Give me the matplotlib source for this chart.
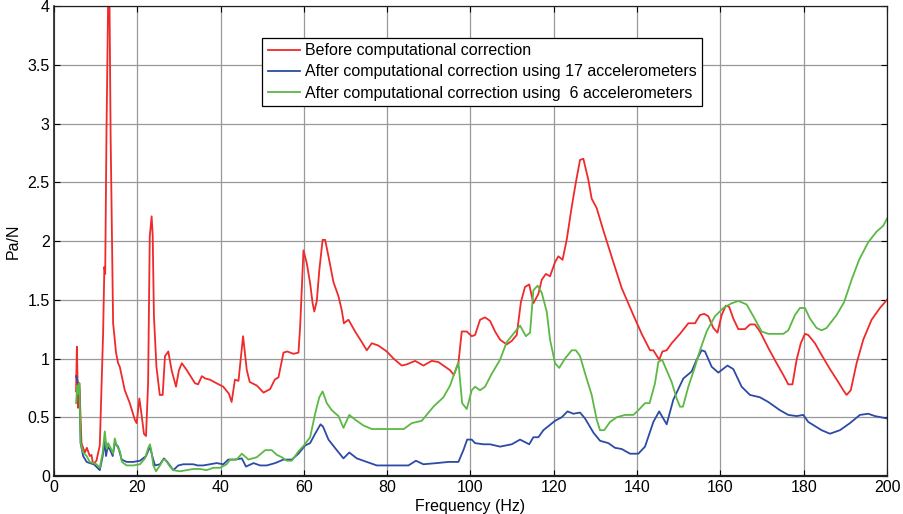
import matplotlib
matplotlib.use("Agg")
import matplotlib.pyplot as plt
from matplotlib.ticker import FormatStrFormatter

# values (Hz, Pa/N)
red_f = [5.3, 5.5, 5.8, 6.1, 6.6, 7.4, 7.9, 8.6, 9.0, 9.4, 10.2, 11.0, 11.8, 12.1, 12.3, 12.6, 13.2, 13.6,
         14.2, 14.9, 15.4, 15.8, 17.0, 18.2, 19.4, 19.85, 20.5, 21.0, 21.6, 22.1, 22.6, 23.0, 23.45, 23.7,
         24.0, 24.6, 25.4, 26.1, 26.65, 27.45, 28.25, 29.3, 30.0, 30.7, 31.9, 33.85, 34.6, 35.5, 36.3,
         37.45, 39.0, 40.65, 42.0, 42.65, 43.45, 44.3, 45.4, 46.3, 47.0, 48.7, 50.3, 51.9, 53.0, 53.9,
         55.1, 56.0, 57.5, 58.7, 59.1, 59.9, 60.7, 61.5, 62.1, 62.5, 63.1, 63.7, 64.5, 65.1, 65.9, 67.1,
         68.3, 69.1, 69.6, 70.7, 72.3, 73.9, 75.1, 76.3, 77.9, 79.9, 81.5, 83.5, 84.7, 86.7, 88.7, 90.7,
         92.3, 93.9, 95.1, 96.0, 97.1, 97.9, 99.1, 100.3, 101.1, 102.3, 103.5, 104.7, 105.9, 107.1, 108.7,
         109.9, 111.1, 112.1, 113.1, 114.1, 115.1, 116.3, 117.1, 118.1, 119.1, 120.3, 121.1, 122.1, 123.1,
         124.3, 125.3, 126.3, 127.1, 128.3, 129.1, 130.3, 131.9, 134.3, 136.3, 139.1, 141.1, 143.1, 143.9,
         145.3, 146.1, 147.1, 148.3, 150.3, 152.3, 153.9, 155.1, 156.1, 157.1, 158.3, 159.3, 160.3, 161.3,
         162.1, 163.1, 164.3, 165.9, 167.1, 168.3, 169.5, 171.5, 173.5, 175.1, 176.3, 177.3, 178.3, 179.3,
         180.3, 181.1, 182.7, 184.3, 186.3, 188.3, 189.5, 190.3, 191.3, 192.7, 194.3, 196.3, 198.3, 200]
red_v = [0.72, 1.10, 0.58, 0.79, 0.28, 0.20, 0.24, 0.17, 0.18, 0.10, 0.13, 0.26, 1.22, 1.78, 1.72, 2.9, 4.6, 2.9,
         1.30, 1.05, 0.96, 0.93, 0.73, 0.62, 0.48, 0.45, 0.66, 0.53, 0.36, 0.34, 0.79, 2.04, 2.21, 2.05,
         1.36, 0.93, 0.69, 0.69, 1.02, 1.06, 0.90, 0.76, 0.90, 0.96, 0.90, 0.79, 0.78, 0.85, 0.83,
         0.82, 0.79, 0.76, 0.70, 0.63, 0.82, 0.81, 1.19, 0.90, 0.80, 0.77, 0.71, 0.74, 0.82, 0.84,
         1.05, 1.06, 1.04, 1.05, 1.27, 1.92, 1.81, 1.64, 1.47, 1.40, 1.49, 1.75, 2.01, 2.01, 1.87, 1.65,
         1.53, 1.41, 1.30, 1.33, 1.23, 1.14, 1.07, 1.13, 1.11, 1.06, 1.00, 0.94, 0.95, 0.98, 0.94, 0.98,
         0.97, 0.93, 0.90, 0.86, 0.96, 1.23, 1.23, 1.19, 1.20, 1.33, 1.35, 1.32, 1.23, 1.16, 1.12,
         1.15, 1.20, 1.48, 1.61, 1.63, 1.47, 1.55, 1.67, 1.72, 1.70, 1.82, 1.87, 1.84, 2.01,
         2.29, 2.50, 2.69, 2.70, 2.52, 2.36, 2.28, 2.09, 1.82, 1.60, 1.37, 1.21, 1.07, 1.07,
         0.99, 1.06, 1.07, 1.13, 1.21, 1.30, 1.30, 1.37, 1.38, 1.36, 1.26, 1.22, 1.37, 1.45,
         1.44, 1.34, 1.25, 1.25, 1.29, 1.29, 1.23, 1.09, 0.96, 0.86, 0.78, 0.78, 0.99, 1.13,
         1.21, 1.20, 1.13, 1.03, 0.91, 0.80, 0.73, 0.69, 0.73, 0.96, 1.16, 1.33, 1.43, 1.50]

blue_f = [5.3, 5.7, 6.1, 6.4, 7.0, 7.85, 8.6, 9.6, 11.0, 11.7, 12.1, 12.5, 12.9, 13.5, 14.1, 14.6, 15.4, 16.25,
          17.45, 19.05, 20.65, 22.1, 23.05, 23.6, 24.25, 25.45, 26.4, 27.2, 28.65, 29.85, 31.05, 33.45, 34.5,
          35.85, 37.45, 39.05, 40.65, 41.85, 43.5, 45.1, 46.1, 47.9, 49.5, 51.1, 53.1, 55.1, 57.1, 58.7,
          60.3, 61.5, 62.7, 64.0, 64.6, 65.9, 67.9, 69.5, 70.9, 72.7, 75.1, 77.5, 80.7, 85.1, 86.9, 88.7,
          91.9, 94.7, 97.1, 98.3, 99.2, 100.3, 101.1, 103.1, 104.7, 107.1, 109.9, 111.9, 114.1, 115.1, 116.3,
          117.5, 120.3, 121.9, 123.3, 124.7, 126.3, 127.5, 129.5, 131.1, 133.1, 134.7, 136.3, 138.3, 140.3,
          141.9, 143.9, 145.3, 147.1, 148.7, 151.1, 153.1, 154.3, 155.5, 156.3, 157.9, 159.5, 161.7, 163.1,
          165.1, 167.1, 169.5, 171.5, 174.3, 176.3, 178.3, 179.9, 181.1, 184.3, 186.3, 188.7, 191.1, 193.5,
          195.5, 197.1, 200]
blue_v = [0.85, 0.80, 0.75, 0.28, 0.17, 0.12, 0.11, 0.10, 0.05, 0.17, 0.29, 0.17, 0.25, 0.22, 0.17, 0.28, 0.25, 0.14,
          0.12, 0.12, 0.13, 0.17, 0.25, 0.17, 0.09, 0.10, 0.15, 0.12, 0.05, 0.09, 0.10, 0.10, 0.09,
          0.09, 0.10, 0.11, 0.10, 0.14, 0.14, 0.15, 0.08, 0.11, 0.09, 0.09, 0.11, 0.14, 0.14, 0.19,
          0.26, 0.28, 0.36, 0.44, 0.42, 0.31, 0.22, 0.15, 0.20, 0.15, 0.12, 0.09, 0.09, 0.09, 0.13, 0.10,
          0.11, 0.12, 0.12, 0.22, 0.31, 0.31, 0.28, 0.27, 0.27, 0.25, 0.27, 0.31, 0.27, 0.33, 0.33,
          0.39, 0.47, 0.50, 0.55, 0.53, 0.54, 0.49, 0.37, 0.30, 0.28, 0.24, 0.23, 0.19, 0.19,
          0.25, 0.46, 0.55, 0.44, 0.65, 0.83, 0.89, 0.99, 1.07, 1.06, 0.93, 0.88, 0.94, 0.91,
          0.76, 0.69, 0.67, 0.63, 0.56, 0.52, 0.51, 0.52, 0.46, 0.39, 0.36, 0.39, 0.45, 0.52,
          0.53, 0.51, 0.49]

green_f = [5.3, 5.6, 5.85, 6.1, 6.4, 7.0, 7.85, 8.6, 9.4, 10.2, 11.0, 11.7, 12.2, 12.65, 13.0, 13.6, 14.2, 14.6,
           15.05, 15.85, 16.3, 17.45, 19.05, 20.65, 21.85, 22.65, 23.05, 23.4, 23.85, 24.5, 25.45, 26.25, 26.7,
           27.85, 28.65, 30.25, 31.85, 33.45, 35.05, 36.65, 38.25, 39.85, 41.45, 42.3, 43.85, 45.1, 46.7, 48.7,
           50.7, 52.3, 53.5, 54.7, 55.9, 57.1, 58.7, 60.0, 61.5, 62.7, 63.7, 64.5, 65.5, 66.7, 68.3, 69.5,
           70.9, 72.3, 74.3, 76.3, 79.9, 84.0, 85.9, 88.3, 91.1, 93.5, 95.1, 97.1, 98.0, 99.1, 100.3, 101.1,
           102.3, 103.5, 105.1, 107.1, 108.7, 110.3, 111.9, 113.3, 114.3, 115.1, 116.1, 117.1, 118.3, 119.1,
           120.3, 121.3, 122.7, 124.3, 125.3, 126.3, 127.7, 129.1, 130.3, 131.1, 132.1, 133.5, 135.1, 137.1,
           139.1, 140.3, 141.9, 143.0, 144.3, 145.1, 146.0, 147.1, 148.3, 149.5, 150.3, 151.0, 152.3, 153.9,
           155.1, 156.7, 158.7, 160.7, 162.7, 164.3, 166.3, 167.9, 169.9, 171.5, 173.5, 175.1, 176.3, 177.9,
           179.1, 180.3, 181.5, 183.1, 184.3, 185.5, 187.9, 189.7, 191.5, 193.3, 195.5, 197.5, 199.1, 200]
green_v = [0.62, 0.77, 0.70, 0.79, 0.28, 0.20, 0.17, 0.12, 0.11, 0.10, 0.07, 0.20, 0.38, 0.23, 0.28, 0.24, 0.19, 0.32,
           0.26, 0.21, 0.12, 0.09, 0.09, 0.10, 0.15, 0.24, 0.27, 0.21, 0.09, 0.04, 0.09, 0.14, 0.14,
           0.08, 0.05, 0.04, 0.05, 0.06, 0.06, 0.05, 0.07, 0.07, 0.10, 0.14, 0.14, 0.19, 0.14, 0.16,
           0.22, 0.22, 0.18, 0.16, 0.13, 0.13, 0.21, 0.26, 0.33, 0.53, 0.67, 0.72, 0.62, 0.56, 0.51, 0.41,
           0.52, 0.48, 0.43, 0.40, 0.40, 0.40, 0.45, 0.47, 0.59, 0.67, 0.77, 0.97, 0.62, 0.57, 0.73, 0.76,
           0.73, 0.76, 0.87, 0.99, 1.14, 1.21, 1.28, 1.19, 1.22, 1.58, 1.62, 1.56, 1.40, 1.16,
           0.96, 0.92, 1.00, 1.07, 1.07, 1.02, 0.85, 0.69, 0.48, 0.39, 0.39, 0.46, 0.50, 0.52,
           0.52, 0.56, 0.62, 0.62, 0.79, 0.97, 0.99, 0.90, 0.80, 0.66, 0.59, 0.59, 0.76, 0.93,
           1.07, 1.23, 1.36, 1.43, 1.47, 1.49, 1.46, 1.36, 1.23, 1.21, 1.21, 1.21, 1.24, 1.37,
           1.43, 1.43, 1.34, 1.26, 1.24, 1.26, 1.37, 1.48, 1.67, 1.84, 1.99, 2.08, 2.13, 2.19]

labels = ["Before computational correction",
          "After computational correction using 17 accelerometers",
          "After computational correction using  6 accelerometers"]


def main():
    plt.rcParams['font.family'] = ['Liberation Sans', 'DejaVu Sans']
    fig = plt.figure(figsize=(9.04, 5.14), dpi=100)
    ax = fig.add_axes([0.0597, 0.0739, 0.9215, 0.9144])

    ax.plot(red_f, red_v, color='#f02a2a', lw=1.3, label=labels[0])
    ax.plot(blue_f, blue_v, color='#2c4aa6', lw=1.3, label=labels[1])
    ax.plot(green_f, green_v, color='#5cb845', lw=1.3, label=labels[2])

    ax.set_xlim(0, 200)
    ax.set_ylim(0, 4)
    ax.set_xticks(range(0, 201, 20))
    ax.set_yticks([0, 0.5, 1, 1.5, 2, 2.5, 3, 3.5, 4])
    ax.yaxis.set_major_formatter(FormatStrFormatter('%g'))
    ax.grid(True, color='#999999', lw=0.9)
    ax.tick_params(direction='in', top=True, right=True, labelsize=11.5, length=4, pad=3)
    for s in ax.spines.values():
        s.set_color('#202020')
        s.set_linewidth(0.9)
    ax.spines['bottom'].set_linewidth(1.6)
    ax.spines['left'].set_linewidth(1.2)

    ax.set_xlabel("Frequency (Hz)", fontsize=11.5, labelpad=3)
    ax.set_ylabel("Pa/N", fontsize=11.5, labelpad=5)

    leg = ax.legend(loc='upper left', bbox_to_anchor=(0.2497, 0.933), fontsize=11.5,
                    fancybox=False, framealpha=1, edgecolor='black', handlelength=2.0,
                    borderpad=0.35, labelspacing=0.4, handletextpad=0.35, borderaxespad=0)
    leg.get_frame().set_linewidth(0.9)

    fig.savefig("out.png", dpi=100)


if __name__ == "__main__":
    main()
